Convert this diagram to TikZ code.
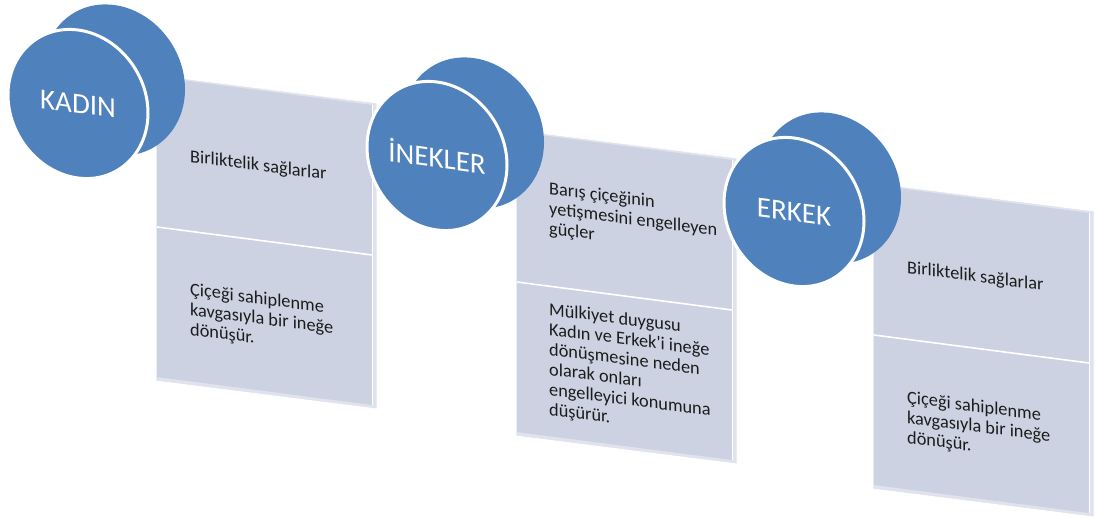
\documentclass[tikz,border=0pt]{standalone}
\usepackage{fontspec}
\setmainfont{Carlito}
\usetikzlibrary{shapes.geometric,calc}
\definecolor{discblue}{HTML}{4F81BD}
\definecolor{panelface}{HTML}{CDD2E2}
\definecolor{paneledge}{HTML}{E0E3ED}
\definecolor{txt}{HTML}{1C1C1C}
\tikzset{
  discback/.style={ellipse, fill=discblue, minimum width=142, minimum height=150, inner sep=0, yslant=-0.13},
  discfront/.style={ellipse, fill=discblue, draw=white, line width=3, minimum width=140, minimum height=148,
    inner sep=0, text=white, font=\fontsize{29}{31}\selectfont, yslant=-0.13},
  paneltext/.style={anchor=base west, inner sep=0, text=txt, yslant=-0.13, font=\fontsize{18.3}{20}\selectfont},
  slabedge/.style={fill=paneledge, draw=white, line width=0.8},
  slabface/.style={fill=panelface},
  divider/.style={draw=white, line width=1.6}
}
\newcommand\slabpanel[3]{%
  \coordinate (#1tl) at (#2,#3);
  \coordinate (#1tr) at (#2+215,#3+28);
  \coordinate (#1br) at (#2+215,#3+328);
  \coordinate (#1bl) at (#2,#3+300);
  \coordinate (#1ml) at (#2,#3+150);
  \coordinate (#1mr) at (#2+215,#3+178);
  \path[slabedge] ($(#1tl)+(-1,-2)$) -- ($(#1tr)+(5,-2)$) -- ($(#1br)+(5,4)$) -- ($(#1bl)+(-1,4)$) -- cycle;
  \path[slabface] (#1tl) -- (#1tr) -- (#1br) -- (#1bl) -- cycle;
  \path[divider] (#1ml) -- (#1mr);
  \path[draw=white, line width=1] (#1tr) -- (#1br);
}
\begin{document}
\begin{tikzpicture}[x=1pt,y=-1pt]
\path[use as bounding box] (0,0) rectangle (1098,518);
% panels
\slabpanel{pa}{157}{77}
\slabpanel{pb}{517}{132}
\slabpanel{pc}{874}{185}
% panel texts
\node[paneltext] (pa1) at (190,162) {\begin{tabular}[t]{@{}l@{}}Birliktelik sağlarlar\end{tabular}};
\node[paneltext] (pa2) at (190,295) {\begin{tabular}[t]{@{}l@{}}Çiçeği sahiplenme\\kavgasıyla bir ineğe\\dönüşür.\end{tabular}};
\node[paneltext] (pb1) at (549,194) {\begin{tabular}[t]{@{}l@{}}Barış çiçeğinin\\yetişmesini engelleyen\\güçler\end{tabular}};
\node[paneltext] (pb2) at (549,315) {\begin{tabular}[t]{@{}l@{}}Mülkiyet duygusu\\Kadın ve Erkek\textquotesingle i ineğe\\dönüşmesine neden\\olarak onları\\engelleyici konumuna\\düşürür.\end{tabular}};
\node[paneltext] (pc1) at (907,273) {\begin{tabular}[t]{@{}l@{}}Birliktelik sağlarlar\end{tabular}};
\node[paneltext] (pc2) at (907,403) {\begin{tabular}[t]{@{}l@{}}Çiçeği sahiplenme\\kavgasıyla bir ineğe\\dönüşür.\end{tabular}};
% discs
\node[discback] (kadinback) at (114,80) {};
\node[discfront] (kadin) at (78,104) {KADIN};
\node[discback] (ineklerback) at (473,133) {};
\node[discfront] (inekler) at (437,156) {İNEKLER};
\node[discback] (erkekback) at (830,188) {};
\node[discfront] (erkek) at (794,212) {ERKEK};
\end{tikzpicture}
\end{document}
